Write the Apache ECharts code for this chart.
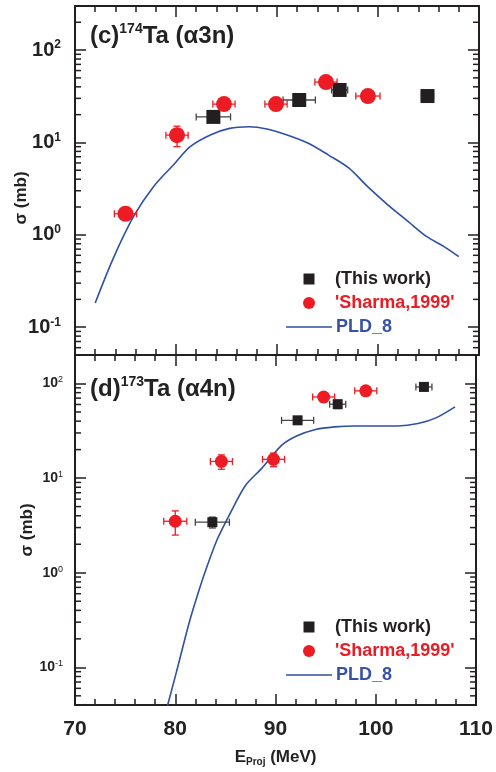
<!DOCTYPE html>
<html>
<head>
    <meta charset="utf-8">
    <title>174Ta / 173Ta cross sections</title>
    <script src="https://cdn.jsdelivr.net/npm/echarts@6.0.0/dist/echarts.min.js"></script>
    <style>
        html, body { margin: 0; padding: 0; background: #fff; }
    </style>
</head>
<body>
    <div id="main" style="width: 496px; height: 772px;"></div>

    <script>
        var FONT = '"Liberation Sans", Arial, sans-serif';
        var BLACK = '#231f20';
        var RED = '#ed1c24';
        var BLUE = '#2f4fa8';

        // x axis
        var xMin = 70, xMax = 110;

        // panel (c) 174Ta (alpha 3n) -- this work
        var cWorkE = [83.7, 92.2, 96.2, 104.9];
        var cWorkSig = [18.9, 28.8, 37.0, 31.8];
        var cWorkDE = [1.7, 1.6, 0.8, 0.6];
        var cWorkDSig = [1.5, 2.0, 2.5, 2.0];
        // panel (c) -- Sharma, 1999
        var cShE = [75.0, 80.1, 84.75, 89.9, 94.85, 99.0];
        var cShSig = [1.69, 12.0, 26.0, 26.0, 45.0, 31.8];
        var cShDE = [1.1, 1.1, 1.1, 1.1, 1.1, 1.2];
        var cShDSig = [0.15, 3.0, 2.0, 2.0, 3.5, 2.5];
        // panel (c) -- PLD_8 calculation
        var cPldE = [72.0, 73.8, 75.8, 77.75, 79.9, 81.4, 83.4, 85.3, 87.2, 89.0, 91.0, 93.1, 95.1, 97.1, 99.0, 101.0, 103.0, 104.8, 106.5, 108.0];
        var cPldSig = [0.183, 0.56, 1.58, 3.3, 5.96, 9.0, 12.05, 14.2, 14.8, 14.0, 12.05, 9.8, 7.3, 5.3, 3.3, 2.1, 1.39, 0.96, 0.75, 0.58];

        // panel (d) 173Ta (alpha 4n) -- this work
        var dWorkE = [83.7, 92.2, 96.2, 104.8];
        var dWorkSig = [3.42, 40.8, 60.4, 92.0];
        var dWorkDE = [1.7, 1.6, 0.8, 0.8];
        var dWorkDSig = [0.45, 3.0, 6.0, 8.0];
        // panel (d) -- Sharma, 1999
        var dShE = [80.0, 84.6, 89.8, 94.8, 99.0];
        var dShSig = [3.5, 15.0, 15.8, 72.0, 83.6];
        var dShDE = [1.15, 1.1, 1.1, 1.1, 1.1];
        var dShDSig = [1.0, 2.6, 2.6, 8.0, 6.0];
        // panel (d) -- PLD_8 calculation
        var dPldE = [79.0, 80.1, 81.4, 82.4, 83.2, 84.2, 85.35, 87.0, 88.6, 90.6, 92.1, 93.9, 95.9, 97.9, 99.9, 102.2, 104.2, 106.0, 107.9];
        var dPldSig = [0.032, 0.088, 0.30, 0.67, 1.19, 2.27, 4.0, 8.35, 12.6, 22.2, 27.9, 32.5, 34.8, 35.6, 35.6, 35.6, 37.7, 43.3, 56.6];

        // y ranges of the two panels
        var cYMin = 0.05, cYMax = 300;
        var dYMin = 0.04, dYMax = 200;

        function pairs(xs, ys) {
            return xs.map(function (x, i) { return [x, ys[i]]; });
        }

        function errRows(xs, ys, dxs, dys) {
            return xs.map(function (x, i) { return [x, ys[i], dxs[i], dys[i]]; });
        }

        // log minor tick positions (2..9 x 10^k) inside a range
        function minorTicks(lo, hi) {
            var out = [];
            for (var k = -3; k <= 3; k++) {
                for (var m = 2; m <= 9; m++) {
                    var v = m * Math.pow(10, k);
                    if (v > lo * 1.0001 && v < hi * 0.9999) out.push([xMin, v]);
                }
            }
            return out;
        }

        function renderMinor(params, api) {
            var cs = params.coordSys;
            var p = api.coord([xMin, api.value(1)]);
            var len = 6;
            var st = { stroke: BLACK, lineWidth: 1.5 };
            return {
                type: 'group',
                children: [
                    { type: 'line', shape: { x1: cs.x, y1: p[1], x2: cs.x + len, y2: p[1] }, style: st },
                    { type: 'line', shape: { x1: cs.x + cs.width, y1: p[1], x2: cs.x + cs.width - len, y2: p[1] }, style: st }
                ]
            };
        }

        function makeErrRender(color) {
            return function (params, api) {
                var x = api.value(0), y = api.value(1), dx = api.value(2), dy = api.value(3);
                var l = api.coord([x - dx, y]);
                var r = api.coord([x + dx, y]);
                var t = api.coord([x, y + dy]);
                var b = api.coord([x, y - dy]);
                var cap = 3.5;
                var st = { stroke: color, lineWidth: 1.3 };
                return {
                    type: 'group',
                    children: [
                        { type: 'line', shape: { x1: l[0], y1: l[1], x2: r[0], y2: r[1] }, style: st },
                        { type: 'line', shape: { x1: l[0], y1: l[1] - cap, x2: l[0], y2: l[1] + cap }, style: st },
                        { type: 'line', shape: { x1: r[0], y1: r[1] - cap, x2: r[0], y2: r[1] + cap }, style: st },
                        { type: 'line', shape: { x1: t[0], y1: t[1], x2: b[0], y2: b[1] }, style: st },
                        { type: 'line', shape: { x1: t[0] - cap, y1: t[1], x2: t[0] + cap, y2: t[1] }, style: st },
                        { type: 'line', shape: { x1: b[0] - cap, y1: b[1], x2: b[0] + cap, y2: b[1] }, style: st }
                    ]
                };
            };
        }

        function logLabel(v) {
            var e = Math.log(v) / Math.LN10;
            var r = Math.round(e);
            if (Math.abs(e - r) > 1e-6) return '';
            return '{b|10}{s|' + r + '}';
        }

        function xAxisDef(gridIndex, pos, showLabel) {
            return {
                type: 'value', gridIndex: gridIndex, position: pos,
                min: xMin, max: xMax, interval: 10,
                axisLine: { show: true, onZero: false, lineStyle: { color: BLACK, width: 2 } },
                axisTick: { show: true, inside: true, length: 11, lineStyle: { color: BLACK, width: 1.5 } },
                minorTick: { show: true, splitNumber: 5, length: 6, lineStyle: { color: BLACK, width: 1.5 } },
                splitLine: { show: false },
                axisLabel: {
                    show: showLabel, margin: 14,
                    fontFamily: FONT, fontWeight: 'bold', fontSize: 21, color: '#222'
                }
            };
        }

        function yAxisDef(gridIndex, pos, lo, hi, showLabel, big) {
            return {
                type: 'log', logBase: 10, gridIndex: gridIndex, position: pos,
                min: lo, max: hi,
                axisLine: { show: true, onZero: false, lineStyle: { color: BLACK, width: 2 } },
                axisTick: { show: true, inside: true, length: 11, lineStyle: { color: BLACK, width: 1.5 } },
                splitLine: { show: false },
                axisLabel: {
                    show: showLabel, margin: big ? 14 : 12,
                    formatter: logLabel,
                    rich: {
                        b: { fontFamily: FONT, fontWeight: 'bold', fontSize: big ? 20 : 14, color: '#222', lineHeight: big ? 22 : 16 },
                        s: { fontFamily: FONT, fontWeight: big ? 'bold' : 'normal', fontSize: big ? 12 : 9, color: '#222',
                             verticalAlign: 'top', lineHeight: big ? 12 : 9 }
                    }
                }
            };
        }

        var chartDom = document.getElementById('main');
        var myChart = echarts.init(chartDom);

        var titleRich = {
            a: { fontFamily: FONT, fontWeight: 'bold', fontSize: 24, fill: '#222', lineHeight: 28 },
            s: { fontFamily: FONT, fontWeight: 'bold', fontSize: 14, fill: '#222', lineHeight: 14, verticalAlign: 'top' }
        };

        function legendGraphics(top) {
            var tx = 335;
            var st = { fontFamily: FONT, fontWeight: 'bold', fontSize: 18 };
            return [
                { type: 'rect', shape: { x: 303.5, y: top - 5.5, width: 11, height: 11 }, style: { fill: BLACK } },
                { type: 'text', x: tx, y: top, style: Object.assign({ text: '(This work)', fill: BLACK, verticalAlign: 'middle' }, st) },
                { type: 'circle', shape: { cx: 309, cy: top + 24, r: 6 }, style: { fill: RED } },
                { type: 'text', x: tx, y: top + 24, style: Object.assign({ text: "'Sharma,1999'", fill: RED, verticalAlign: 'middle' }, st) },
                { type: 'line', shape: { x1: 286, y1: top + 48, x2: 332, y2: top + 48 }, style: { stroke: BLUE, lineWidth: 1.6 } },
                { type: 'text', x: tx + 1, y: top + 48, style: Object.assign({ text: 'PLD_8', fill: '#3752a5', verticalAlign: 'middle' }, st) }
            ];
        }

        var option = {
            animation: false,
            backgroundColor: '#fff',
            grid: [
                { left: 75, top: 6, width: 404, height: 349 },
                { left: 75, top: 355, width: 404, height: 350 }
            ],
            xAxis: [
                xAxisDef(0, 'bottom', false),
                xAxisDef(0, 'top', false),
                Object.assign(xAxisDef(1, 'bottom', true), {
                    name: '{b|E}{s|Proj}{b| (MeV)}',
                    nameLocation: 'middle', nameGap: 42,
                    nameTextStyle: {
                        rich: {
                            b: { fontFamily: FONT, fontWeight: 'bold', fontSize: 17, color: '#222', lineHeight: 20 },
                            s: { fontFamily: FONT, fontWeight: 'bold', fontSize: 10, color: '#222', lineHeight: 10, verticalAlign: 'bottom' }
                        }
                    }
                }),
                xAxisDef(1, 'top', false)
            ],
            yAxis: [
                yAxisDef(0, 'left', cYMin, cYMax, true, true),
                yAxisDef(0, 'right', cYMin, cYMax, false, true),
                yAxisDef(1, 'left', dYMin, dYMax, true, false),
                yAxisDef(1, 'right', dYMin, dYMax, false, false)
            ],
            graphic: [
                { type: 'text', x: 90, y: 22, style: { text: '{a|(c)}{s|174}{a|Ta (α3n)}', rich: titleRich } },
                { type: 'text', x: 90, y: 375, style: { text: '{a|(d)}{s|173}{a|Ta (α4n)}', rich: titleRich } },
                { type: 'text', x: 21, y: 198, rotation: Math.PI / 2,
                  style: { text: 'σ (mb)', fontFamily: FONT, fontWeight: 'bold', fontSize: 17, fill: '#222', align: 'center', verticalAlign: 'middle' } },
                { type: 'text', x: 27, y: 530, rotation: Math.PI / 2,
                  style: { text: 'σ (mb)', fontFamily: FONT, fontWeight: 'bold', fontSize: 17, fill: '#222', align: 'center', verticalAlign: 'middle' } }
            ].concat(legendGraphics(279)).concat(legendGraphics(627)),
            series: [
                // minor log ticks
                { type: 'custom', xAxisIndex: 0, yAxisIndex: 0, renderItem: renderMinor, data: minorTicks(cYMin, cYMax), silent: true, z: 1 },
                { type: 'custom', xAxisIndex: 2, yAxisIndex: 2, renderItem: renderMinor, data: minorTicks(dYMin, dYMax), silent: true, z: 1 },

                // panel (c)
                { name: 'PLD_8', type: 'line', xAxisIndex: 0, yAxisIndex: 0, data: pairs(cPldE, cPldSig),
                  symbol: 'none', smooth: 0.3, lineStyle: { color: BLUE, width: 1.6 }, z: 2 },
                { type: 'custom', xAxisIndex: 0, yAxisIndex: 0, renderItem: makeErrRender('#444'),
                  data: errRows(cWorkE, cWorkSig, cWorkDE, cWorkDSig), z: 3 },
                { type: 'custom', xAxisIndex: 0, yAxisIndex: 0, renderItem: makeErrRender(RED),
                  data: errRows(cShE, cShSig, cShDE, cShDSig), z: 3 },
                { name: '(This work)', type: 'scatter', xAxisIndex: 0, yAxisIndex: 0, data: pairs(cWorkE, cWorkSig),
                  symbol: 'rect', symbolSize: 14, itemStyle: { color: BLACK, opacity: 1 }, z: 4 },
                { name: "'Sharma,1999'", type: 'scatter', xAxisIndex: 0, yAxisIndex: 0, data: pairs(cShE, cShSig),
                  symbol: 'circle', symbolSize: 16, itemStyle: { color: RED, opacity: 1 }, z: 4 },

                // panel (d)
                { name: 'PLD_8', type: 'line', xAxisIndex: 2, yAxisIndex: 2, data: pairs(dPldE, dPldSig),
                  symbol: 'none', smooth: 0.3, clip: true, lineStyle: { color: BLUE, width: 1.6 }, z: 2 },
                { type: 'custom', xAxisIndex: 2, yAxisIndex: 2, renderItem: makeErrRender('#444'),
                  data: errRows(dWorkE, dWorkSig, dWorkDE, dWorkDSig), z: 3 },
                { type: 'custom', xAxisIndex: 2, yAxisIndex: 2, renderItem: makeErrRender(RED),
                  data: errRows(dShE, dShSig, dShDE, dShDSig), z: 3 },
                { name: '(This work)', type: 'scatter', xAxisIndex: 2, yAxisIndex: 2, data: pairs(dWorkE, dWorkSig),
                  symbol: 'rect', symbolSize: 10, itemStyle: { color: BLACK, opacity: 1 }, z: 4 },
                { name: "'Sharma,1999'", type: 'scatter', xAxisIndex: 2, yAxisIndex: 2, data: pairs(dShE, dShSig),
                  symbol: 'circle', symbolSize: 13, itemStyle: { color: RED, opacity: 1 }, z: 4 }
            ]
        };

        myChart.setOption(option);
    </script>
</body>
</html>
